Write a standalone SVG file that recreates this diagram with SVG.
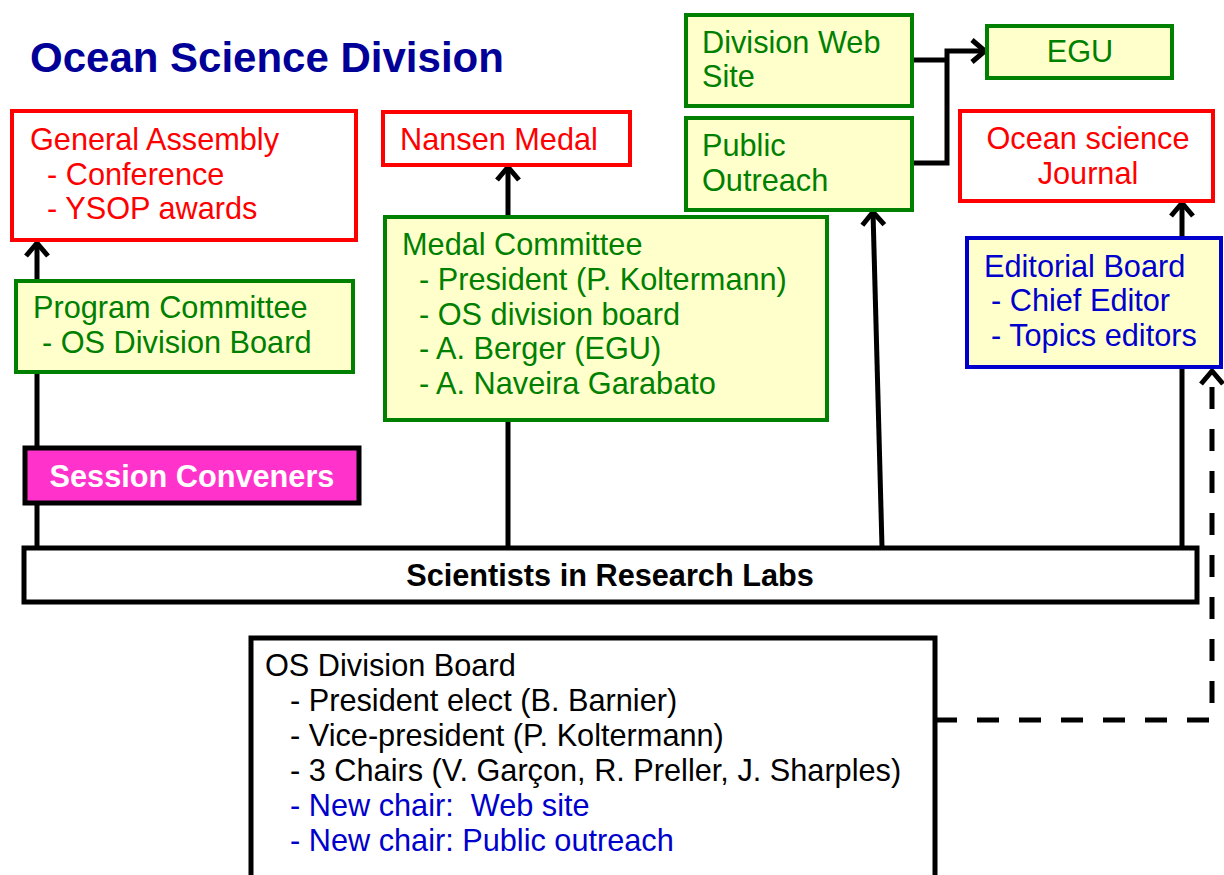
<svg xmlns="http://www.w3.org/2000/svg" width="1224" height="875" viewBox="0 0 1224 875">
<defs>
<marker id="arr" markerUnits="userSpaceOnUse" viewBox="-20 -15 25 30" markerWidth="25" markerHeight="30" refX="0" refY="0" orient="auto">
<path d="M-13,-11 L0,0 L-13,11" fill="none" stroke="#000" stroke-width="5"/>
</marker>
</defs>
<style>
text{font-family:"Liberation Sans",Arial,sans-serif;font-size:30.7px}
.red{fill:#fff;stroke:#ff0000;stroke-width:4}
.grn{fill:#ffffcc;stroke:#008000;stroke-width:4}
.blu{fill:#ffffcc;stroke:#0000cc;stroke-width:4}
.blk{fill:#fff;stroke:#000;stroke-width:5}
.tr{fill:#ff0000}.tg{fill:#008000}.tb{fill:#0000cc}.tk{fill:#000}
.c{stroke:#000;stroke-width:5;fill:none}
</style>
<rect width="1224" height="875" fill="#fff"/>
<text x="30" y="72" style="font-size:42px;font-weight:bold;fill:#000099">Ocean Science Division</text>
<g id="connectors">
<line class="c" x1="37" y1="547" x2="37" y2="243" marker-end="url(#arr)"/>
<line class="c" x1="508" y1="547" x2="508" y2="167" marker-end="url(#arr)"/>
<line class="c" x1="882" y1="547" x2="873" y2="212" marker-end="url(#arr)"/>
<line class="c" x1="1182" y1="547" x2="1182" y2="203" marker-end="url(#arr)"/>
<path class="c" d="M912,60 H947"/>
<path class="c" d="M912,163 H947 V51 H985" marker-end="url(#arr)"/>
<path class="c" d="M935,720 H1212 V371" stroke-dasharray="22,20" marker-end="url(#arr)"/>
</g>
<g id="general-assembly">
<rect class="red" x="12" y="111" width="344" height="129"/>
<text class="tr" x="30" y="150">General Assembly</text>
<text class="tr" x="47" y="185">- Conference</text>
<text class="tr" x="47" y="219">- YSOP awards</text>
</g>
<g id="nansen-medal">
<rect class="red" x="383" y="112" width="247" height="53"/>
<text class="tr" x="400" y="150">Nansen Medal</text>
</g>
<g id="web-site">
<rect class="grn" x="686" y="15" width="226" height="91"/>
<text class="tg" x="702" y="53">Division Web</text>
<text class="tg" x="702" y="87">Site</text>
</g>
<g id="public-outreach">
<rect class="grn" x="686" y="118" width="226" height="92"/>
<text class="tg" x="702" y="156">Public</text>
<text class="tg" x="702" y="191">Outreach</text>
</g>
<g id="egu">
<rect class="grn" x="987" y="26" width="185" height="52"/>
<text class="tg" x="1080" y="62" text-anchor="middle">EGU</text>
</g>
<g id="journal">
<rect class="red" x="960" y="111" width="253" height="90"/>
<text class="tr" x="1088" y="149" text-anchor="middle">Ocean science</text>
<text class="tr" x="1088" y="184" text-anchor="middle">Journal</text>
</g>
<g id="program-committee">
<rect class="grn" x="16" y="281" width="337" height="91"/>
<text class="tg" x="33" y="318">Program Committee</text>
<text class="tg" x="42" y="353">- OS Division Board</text>
</g>
<g id="medal-committee">
<rect class="grn" x="385" y="217" width="442" height="203"/>
<text class="tg" x="402" y="255">Medal Committee</text>
<text class="tg" x="419" y="290">- President (P. Koltermann)</text>
<text class="tg" x="419" y="325">- OS division board</text>
<text class="tg" x="419" y="359">- A. Berger (EGU)</text>
<text class="tg" x="419" y="394">- A. Naveira Garabato</text>
</g>
<g id="editorial-board">
<rect class="blu" x="967" y="238" width="254" height="129"/>
<text class="tb" x="984" y="277">Editorial Board</text>
<text class="tb" x="991" y="311">- Chief Editor</text>
<text class="tb" x="991" y="346">- Topics editors</text>
</g>
<g id="session-conveners">
<rect x="25" y="448" width="334" height="55" fill="#ff33cc" stroke="#000" stroke-width="5"/>
<text x="192" y="487" text-anchor="middle" style="font-weight:bold;fill:#fff">Session Conveners</text>
</g>
<g id="scientists">
<rect class="blk" x="24" y="548" width="1173" height="54"/>
<text class="tk" x="610" y="586" text-anchor="middle" style="font-weight:bold">Scientists in Research Labs</text>
</g>
<g id="os-division-board">
<rect class="blk" x="251" y="638" width="684" height="260"/>
<text class="tk" x="265" y="676">OS Division Board</text>
<text class="tk" x="290" y="711">- President elect (B. Barnier)</text>
<text class="tk" x="290" y="746">- Vice-president (P. Koltermann)</text>
<text class="tk" x="290" y="781">- 3 Chairs (V. Garçon, R. Preller, J. Sharples)</text>
<text class="tb" x="290" y="816">- New chair:&#160; Web site</text>
<text class="tb" x="290" y="851">- New chair: Public outreach</text>
</g>
</svg>
